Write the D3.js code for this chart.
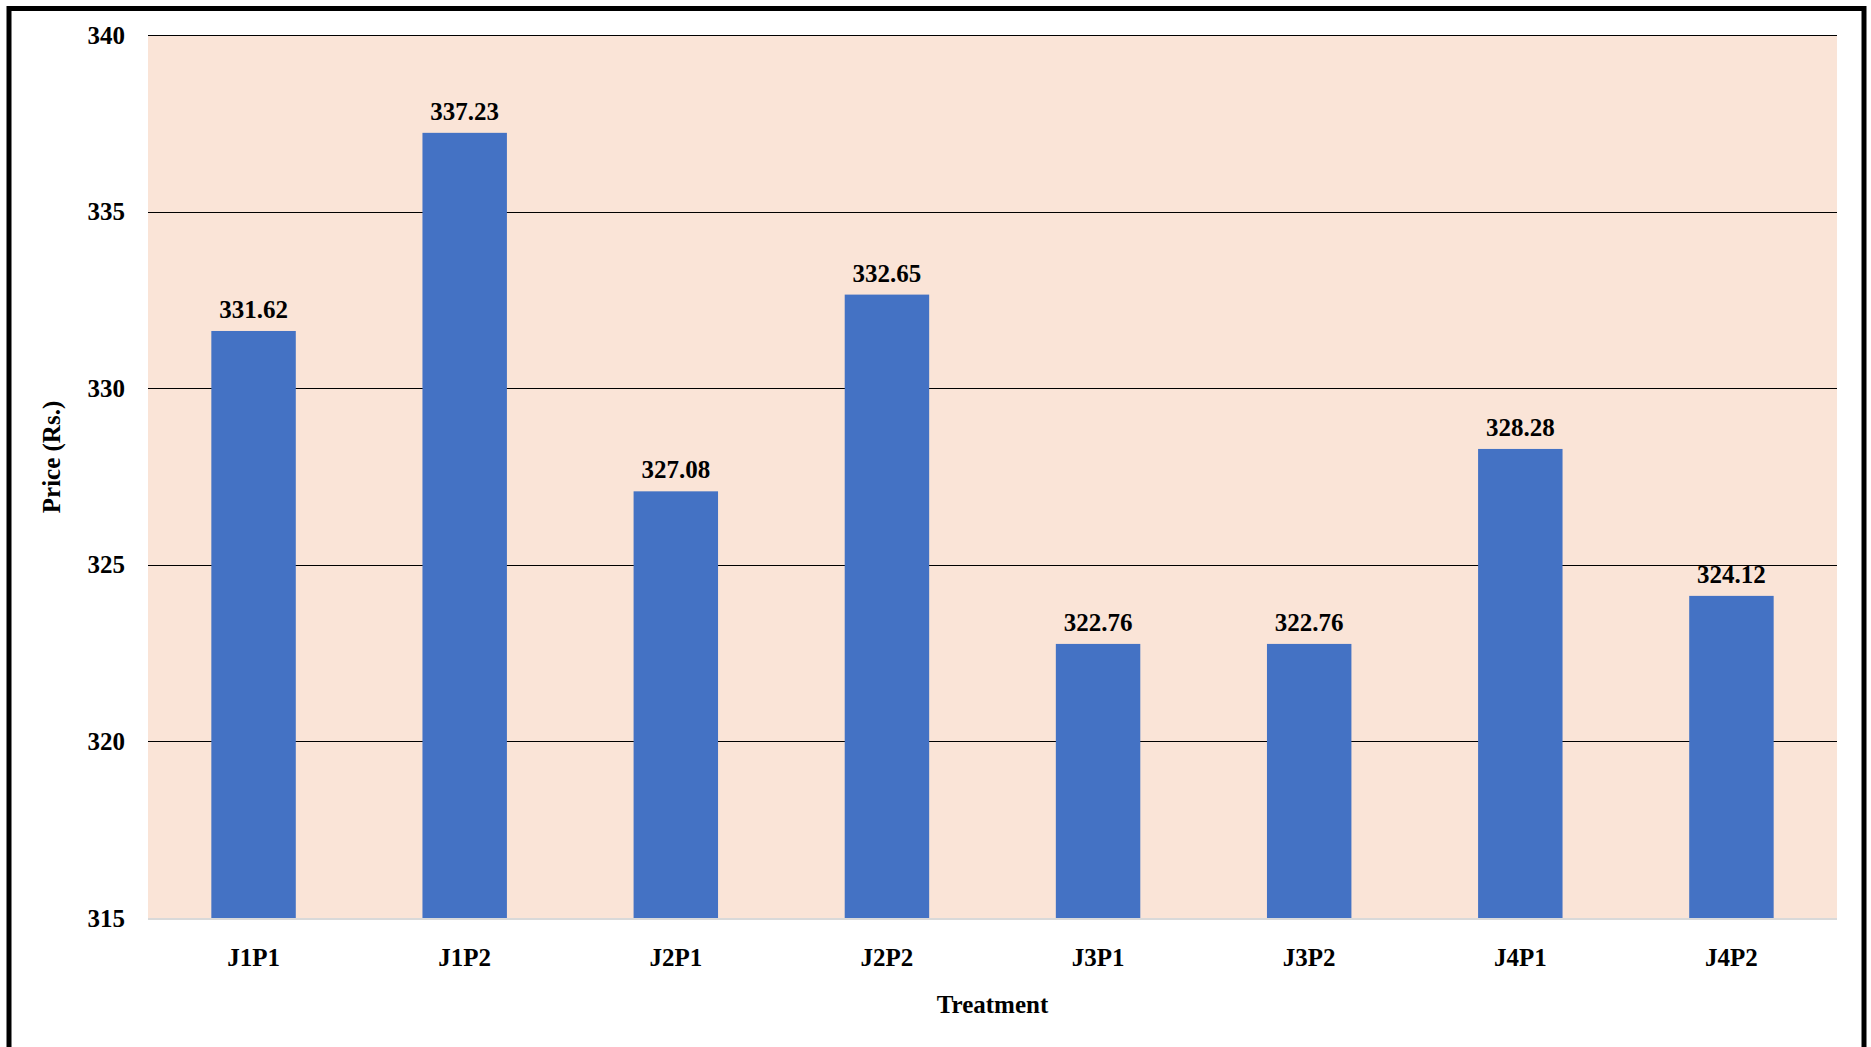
<!DOCTYPE html>
<html>
<head>
<meta charset="utf-8">
<script src="https://cdn.jsdelivr.net/npm/d3@7"></script>
<style>
  html, body { margin: 0; padding: 0; background: #fff; }
  svg { display: block; }
  svg text { font-family: 'Liberation Serif', 'Times New Roman', serif !important; font-weight: bold; fill: #000; }
</style>
</head>
<body>
<svg id="chart" width="1871" height="1047"></svg>
<script>
const categories = ["J1P1", "J1P2", "J2P1", "J2P2", "J3P1", "J3P2", "J4P1", "J4P2"];
const prices = [331.62, 337.23, 327.08, 332.65, 322.76, 322.76, 328.28, 324.12];
const yTicks = [315, 320, 325, 330, 335, 340];
const yTitle = "Price (Rs.)";
const xTitle = "Treatment";

const plot = { left: 148, right: 1837, top: 35, bottom: 918 };
const FONT = "'Liberation Serif', 'Times New Roman', serif";
const FS = 25;

const svg = d3.select("#chart");

// outer frame
svg.append("rect")
  .attr("x", 9).attr("y", 8.5)
  .attr("width", 1855).attr("height", 1100)
  .attr("fill", "none").attr("stroke", "#000").attr("stroke-width", 5);

const x = d3.scaleBand()
  .domain(categories)
  .range([plot.left, plot.right])
  .paddingInner(0.6)
  .paddingOuter(0.3);

const y = d3.scaleLinear()
  .domain([315, 340])
  .range([plot.bottom, plot.top]);

// plot background
svg.append("rect")
  .attr("x", plot.left).attr("y", plot.top)
  .attr("width", plot.right - plot.left).attr("height", plot.bottom - plot.top)
  .attr("fill", "#FAE4D7");

// gridlines
svg.append("g").selectAll("line")
  .data(yTicks.filter(t => t > 315))
  .join("line")
  .attr("x1", plot.left).attr("x2", plot.right)
  .attr("y1", d => Math.round(y(d)) + 0.5).attr("y2", d => Math.round(y(d)) + 0.5)
  .attr("stroke", "#000").attr("stroke-width", 1);

const rows = categories.map((c, i) => ({ c, v: prices[i] }));

// bars
svg.append("g").selectAll("rect")
  .data(rows)
  .join("rect")
  .attr("x", d => x(d.c))
  .attr("width", x.bandwidth())
  .attr("y", d => y(d.v))
  .attr("height", d => y(315) - y(d.v))
  .attr("fill", "#4472C4");

// x axis baseline
svg.append("line")
  .attr("x1", plot.left).attr("x2", plot.right)
  .attr("y1", plot.bottom + 1).attr("y2", plot.bottom + 1)
  .attr("stroke", "#D9D9D9").attr("stroke-width", 2);

// y axis tick labels
const yAxis = d3.axisLeft(y).tickValues(yTicks).tickSize(0).tickPadding(23).tickFormat(d3.format("d"));
const gy = svg.append("g").attr("transform", `translate(${plot.left},0)`).call(yAxis);
gy.attr("font-family", null).attr("font-size", null);
gy.select(".domain").remove();
gy.selectAll("text")
  .style("font-family", FONT).style("font-weight", "bold").style("font-size", FS + "px").attr("fill", "#000");

// x axis tick labels
const xAxis = d3.axisBottom(x).tickSize(0).tickPadding(0);
const gx = svg.append("g").attr("transform", `translate(0,${plot.bottom})`).call(xAxis);
gx.attr("font-family", null).attr("font-size", null);
gx.select(".domain").remove();
gx.selectAll("text")
  .attr("y", 48).attr("dy", null)
  .style("font-family", FONT).style("font-weight", "bold").style("font-size", FS + "px").attr("fill", "#000");

// value labels
svg.append("g").selectAll("text")
  .data(rows)
  .join("text")
  .attr("x", d => x(d.c) + x.bandwidth() / 2)
  .attr("y", d => y(d.v) - 13)
  .attr("text-anchor", "middle")
  .style("font-family", FONT).style("font-size", FS + "px")
  .text(d => d.v.toFixed(2));

// axis titles
svg.append("text")
  .attr("x", (plot.left + plot.right) / 2)
  .attr("y", 1013)
  .attr("text-anchor", "middle")
  .style("font-family", FONT).style("font-size", FS + "px")
  .text(xTitle);

svg.append("text")
  .attr("transform", "translate(60,457) rotate(-90)")
  .attr("text-anchor", "middle")
  .style("font-family", FONT).style("font-size", FS + "px")
  .text(yTitle);
</script>
</body>
</html>
